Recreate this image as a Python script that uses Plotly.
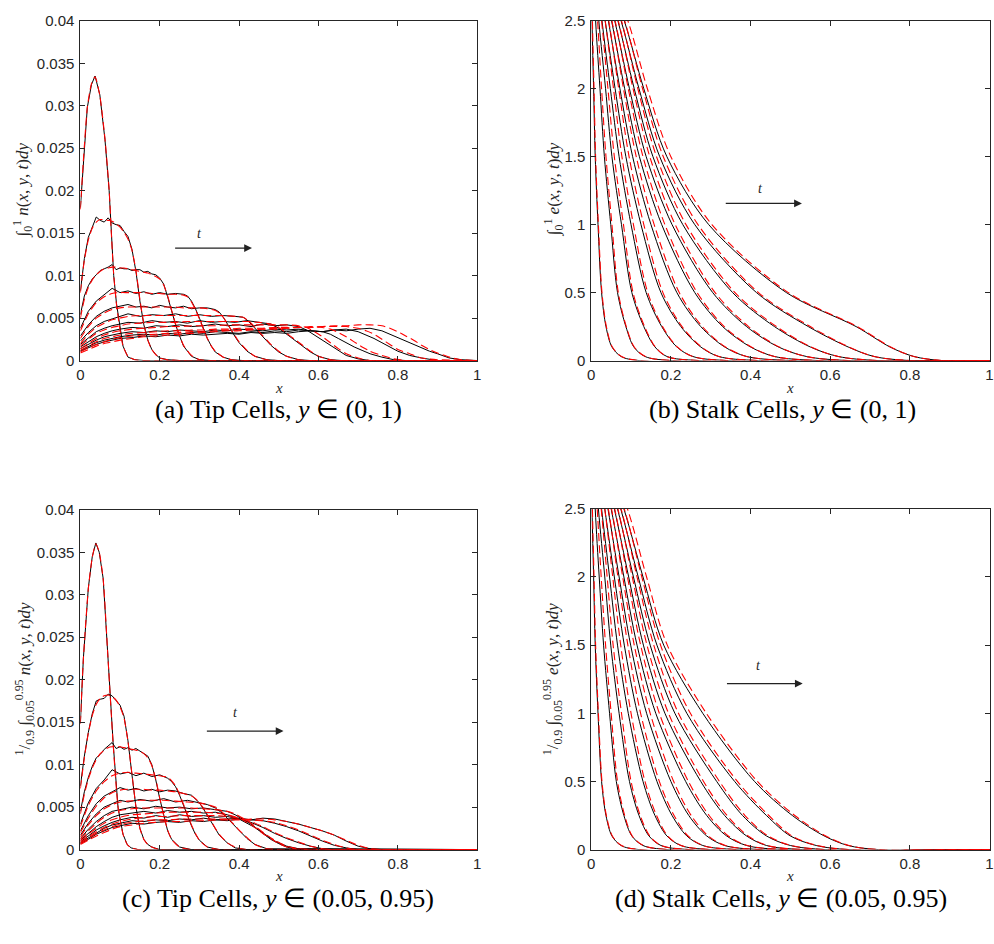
import plotly.graph_objects as go

# ---------------------------------------------------------------
# Tip cells, y in (0, 1): stochastic simulation (black) and
# continuum model (red dashed), eleven snapshots in time.
# ---------------------------------------------------------------
tipA_x = [
    [0, .0075, .0175, .028, .037, .049, .062, .0725, .078, .084, .091, .099, .1075, .12, .137, .16, 1],
    [0, .01, .02, .03, .04, .05, .06, .07, .08, .09, .10, .11, .12, .13, .14, .15, .16, .17, .18, .19, .20, .22, .25, 1],
    [0, .01, .02, .03, .04, .05, .06, .07, .08, .09, .10, .11, .12, .13, .14, .15, .16, .17, .18, .19, .20, .21, .22, .23, .24, .25, .26, .28, .30, .33, 1],
    [0, .02, .04, .06, .08, .10, .12, .14, .16, .18, .20, .22, .24, .26, .27, .28, .29, .30, .31, .32, .33, .34, .36, .38, .41, 1],
    [0, .02, .04, .06, .08, .10, .12, .14, .16, .18, .20, .22, .24, .26, .28, .30, .32, .34, .35, .36, .37, .38, .39, .40, .42, .44, .47, .50, 1],
    [0, .02, .04, .06, .08, .10, .12, .15, .18, .21, .24, .27, .30, .33, .36, .39, .41, .42, .43, .44, .45, .46, .47, .48, .50, .52, .55, .58, 1],
    [0, .02, .04, .06, .08, .10, .12, .15, .18, .21, .24, .27, .30, .33, .36, .39, .42, .45, .48, .50, .52, .54, .56, .58, .60, .63, .66, 1],
    [0, .02, .04, .06, .08, .10, .13, .16, .19, .22, .25, .28, .31, .34, .37, .40, .43, .46, .49, .52, .55, .57, .59, .61, .63, .65, .67, .70, .73, 1],
    [0, .02, .04, .06, .08, .10, .13, .16, .19, .22, .25, .28, .31, .34, .37, .40, .43, .46, .49, .52, .55, .58, .61, .63, .65, .67, .69, .71, .73, .76, .79, .82, 1],
    [0, .02, .04, .06, .08, .10, .13, .16, .19, .22, .25, .28, .31, .34, .37, .40, .43, .46, .49, .52, .55, .58, .61, .64, .67, .70, .72, .74, .76, .78, .80, .83, .86, .90, 1],
    [0, .02, .04, .06, .08, .10, .13, .16, .19, .22, .25, .28, .31, .34, .37, .40, .43, .46, .49, .52, .55, .58, .61, .64, .67, .70, .73, .76, .78, .80, .82, .84, .86, .88, .90, .93, .96, 1],
]
tipA_sim = [
    [.018, .0233, .0298, .0325, .0335, .0313, .026, .020, .0148, .010, .0067, .004, .0017, .0004, .0001, 0, 0],
    [.0082, .0120, .0145, .0158, .0169, .0165, .0163, .0168, .0162, .0160, .0159, .0152, .0146, .0131, .0105, .0070, .0042, .0024, .0013, .0007, .0003, .0001, 0, 0],
    [.0054, .0076, .0088, .0096, .0101, .0106, .0108, .0110, .0113, .0107, .0109, .0108, .0108, .0106, .0107, .0107, .0104, .0105, .0102, .0101, .0097, .0090, .0075, .0058, .0042, .0029, .0017, .0005, .0001, 0, 0],
    [.0038, .0058, .0070, .0077, .0085, .0080, .0082, .0079, .0081, .0078, .0080, .0078, .0079, .0078, .0076, .0070, .0061, .0050, .0038, .0026, .0017, .0010, .0004, .0001, 0, 0],
    [.0029, .0042, .0052, .0058, .0062, .0064, .0066, .0063, .0064, .0062, .0065, .0063, .0062, .0064, .0061, .0062, .0062, .0060, .0057, .0051, .0044, .0036, .0028, .0021, .0011, .0005, .0001, 0, 0],
    [.0023, .0033, .0041, .0046, .0049, .0052, .0055, .0052, .0054, .0053, .0055, .0052, .0054, .0052, .0053, .0052, .0051, .0048, .0043, .0038, .0033, .0028, .0023, .0018, .0010, .0005, .0001, 0, 0],
    [.0019, .0027, .0034, .0038, .0041, .0043, .0045, .0044, .0047, .0045, .0046, .0044, .0047, .0045, .0046, .0045, .0047, .0045, .0043, .0038, .0031, .0024, .0017, .0010, .0005, .0001, 0, 0],
    [.0016, .0022, .0028, .0032, .0035, .0037, .0039, .0038, .0041, .0040, .0042, .0040, .0041, .0043, .0041, .0042, .0040, .0043, .0041, .0042, .0040, .0036, .0030, .0024, .0017, .0011, .0006, .0002, 0, 0],
    [.0014, .0019, .0024, .0028, .0030, .0032, .0034, .0033, .0035, .0034, .0036, .0035, .0034, .0036, .0035, .0037, .0036, .0035, .0037, .0036, .0037, .0035, .0034, .0031, .0026, .0021, .0016, .0012, .0008, .0004, .0001, 0, 0],
    [.0012, .0017, .0021, .0024, .0026, .0028, .0030, .0031, .0030, .0032, .0031, .0033, .0032, .0034, .0033, .0032, .0034, .0033, .0035, .0034, .0036, .0035, .0034, .0036, .0037, .0034, .0030, .0026, .0021, .0016, .0011, .0006, .0003, 0, 0],
    [.0011, .0015, .0019, .0022, .0024, .0026, .0027, .0029, .0028, .0030, .0029, .0031, .0030, .0031, .0032, .0031, .0033, .0032, .0033, .0032, .0034, .0035, .0034, .0036, .0035, .0037, .0038, .0035, .0031, .0027, .0023, .0019, .0015, .0011, .0008, .0003, .0001, 0],
]
tipA_pde = [
    [.0178, .0235, .0298, .0326, .0334, .0312, .0261, .0201, .0150, .0101, .0066, .0039, .0017, .0005, .0001, 0, 0],
    [.0080, .0118, .0142, .0156, .0163, .0166, .0166, .0165, .0164, .0161, .0157, .0151, .0143, .0130, .0106, .0072, .0043, .0024, .0013, .0007, .0003, .0001, 0, 0],
    [.0050, .0072, .0086, .0095, .0101, .0105, .0108, .0109, .0110, .0110, .0109, .0109, .0108, .0107, .0106, .0105, .0104, .0103, .0101, .0099, .0096, .0089, .0076, .0059, .0043, .0029, .0018, .0006, .0001, 0, 0],
    [.0035, .0055, .0068, .0075, .0079, .0080, .0080, .0080, .0080, .0079, .0079, .0078, .0078, .0077, .0075, .0069, .0060, .0049, .0037, .0026, .0017, .0011, .0004, .0001, 0, 0],
    [.0026, .0040, .0050, .0056, .0060, .0062, .0063, .0063, .0063, .0063, .0063, .0063, .0063, .0062, .0062, .0062, .0061, .0059, .0056, .0051, .0044, .0036, .0029, .0022, .0012, .0005, .0001, 0, 0],
    [.0020, .0031, .0039, .0044, .0048, .0050, .0052, .0053, .0053, .0053, .0053, .0053, .0053, .0053, .0053, .0052, .0051, .0048, .0044, .0039, .0034, .0029, .0024, .0019, .0011, .0005, .0001, 0, 0],
    [.0017, .0025, .0032, .0036, .0039, .0041, .0043, .0044, .0045, .0045, .0045, .0046, .0046, .0046, .0046, .0046, .0046, .0045, .0043, .0039, .0032, .0025, .0018, .0011, .0005, .0001, 0, 0],
    [.0014, .0020, .0026, .0030, .0033, .0035, .0037, .0038, .0039, .0040, .0040, .0041, .0041, .0041, .0042, .0042, .0042, .0042, .0042, .0042, .0041, .0039, .0034, .0028, .0021, .0014, .0008, .0003, 0, 0],
    [.0012, .0017, .0022, .0026, .0028, .0030, .0032, .0033, .0034, .0035, .0035, .0036, .0036, .0037, .0037, .0038, .0038, .0038, .0039, .0039, .0039, .0040, .0039, .0037, .0033, .0028, .0022, .0016, .0011, .0006, .0002, 0, 0],
    [.0010, .0015, .0019, .0022, .0025, .0027, .0029, .0030, .0031, .0032, .0033, .0034, .0034, .0035, .0036, .0036, .0037, .0037, .0038, .0038, .0039, .0039, .0040, .0040, .0040, .0038, .0035, .0031, .0025, .0019, .0013, .0008, .0003, .0001, 0],
    [.0009, .0013, .0017, .0020, .0022, .0024, .0026, .0028, .0029, .0030, .0031, .0032, .0033, .0034, .0035, .0035, .0036, .0037, .0037, .0038, .0039, .0039, .0040, .0041, .0041, .0042, .0042, .0041, .0038, .0034, .0029, .0024, .0018, .0013, .0009, .0004, .0001, 0],
]

# ---------------------------------------------------------------
# Tip cells, y in (0.05, 0.95)
# ---------------------------------------------------------------
tipC_x = [
    [0, .0075, .02, .03, .039, .0475, .0575, .07, .0825, .095, .1075, .118, .128, .145, 1],
    [0, .01, .02, .03, .04, .05, .06, .07, .08, .09, .10, .11, .12, .13, .14, .15, .16, .17, .18, .20, 1],
    [0, .01, .02, .03, .04, .05, .06, .07, .08, .09, .10, .11, .12, .13, .14, .15, .16, .17, .18, .19, .20, .21, .22, .23, .25, .28, 1],
    [0, .02, .04, .06, .08, .10, .12, .14, .16, .18, .20, .22, .23, .24, .25, .26, .27, .28, .29, .30, .32, .35, 1],
    [0, .02, .04, .06, .08, .10, .12, .14, .16, .18, .20, .22, .24, .26, .28, .29, .30, .31, .32, .33, .34, .35, .37, .39, .42, 1],
    [0, .02, .04, .06, .08, .10, .12, .15, .18, .21, .24, .27, .30, .32, .34, .35, .36, .37, .38, .39, .40, .42, .44, .47, 1],
    [0, .02, .04, .06, .08, .10, .13, .16, .19, .22, .25, .28, .31, .34, .37, .39, .41, .43, .45, .47, .49, .52, .55, 1],
    [0, .02, .04, .06, .08, .10, .13, .16, .19, .22, .25, .28, .31, .34, .37, .40, .42, .44, .46, .48, .50, .52, .54, .57, .60, 1],
    [0, .02, .04, .06, .08, .10, .13, .16, .19, .22, .25, .28, .31, .34, .37, .40, .43, .46, .49, .52, .55, .58, .61, .64, 1],
    [0, .02, .04, .06, .08, .10, .13, .16, .19, .22, .25, .28, .31, .34, .37, .40, .43, .46, .49, .52, .55, .58, .61, .64, .67, .70, 1],
    [0, .02, .04, .06, .08, .10, .13, .16, .19, .22, .25, .28, .31, .34, .37, .40, .43, .46, .49, .52, .55, .58, .61, .64, .67, .70, .73, .76, 1],
]
tipC_sim = [
    [.015, .0225, .0308, .0345, .0361, .0350, .0319, .0221, .0126, .0049, .0018, .0006, .0002, 0, 0],
    [.0075, .0110, .0138, .0160, .0175, .0177, .0178, .0183, .0181, .0176, .0170, .0157, .0128, .0088, .0050, .0025, .0012, .0006, .0003, 0, 0],
    [.0045, .0068, .0085, .0098, .0108, .0112, .0118, .0122, .0126, .0119, .0121, .0118, .0120, .0117, .0119, .0116, .0113, .0110, .0100, .0082, .0060, .0039, .0022, .0012, .0003, 0, 0],
    [.0030, .0055, .0072, .0082, .0094, .0089, .0091, .0087, .0090, .0086, .0088, .0084, .0080, .0074, .0064, .0053, .0040, .0028, .0018, .0011, .0003, 0, 0],
    [.0022, .0040, .0054, .0063, .0068, .0073, .0070, .0072, .0069, .0071, .0068, .0070, .0069, .0066, .0064, .0060, .0055, .0048, .0040, .0032, .0024, .0017, .0008, .0002, 0, 0],
    [.0017, .0031, .0042, .0050, .0054, .0058, .0056, .0059, .0057, .0060, .0056, .0058, .0055, .0053, .0049, .0046, .0042, .0037, .0032, .0027, .0022, .0013, .0006, .0001, 0],
    [.0013, .0024, .0033, .0040, .0045, .0047, .0050, .0048, .0051, .0049, .0050, .0048, .0049, .0047, .0045, .0041, .0036, .0030, .0023, .0016, .0010, .0004, .0001, 0],
    [.0011, .0019, .0027, .0033, .0038, .0041, .0043, .0045, .0043, .0046, .0044, .0045, .0043, .0044, .0041, .0036, .0031, .0026, .0019, .0012, .0007, .0003, .0001, 0, 0, 0],
    [.0009, .0016, .0023, .0028, .0032, .0035, .0038, .0037, .0040, .0038, .0041, .0039, .0040, .0038, .0039, .0036, .0032, .0026, .0019, .0013, .0008, .0004, .0001, 0, 0],
    [.0008, .0014, .0020, .0025, .0029, .0031, .0034, .0033, .0035, .0034, .0036, .0035, .0037, .0035, .0036, .0037, .0035, .0034, .0031, .0027, .0022, .0016, .0010, .0005, .0002, 0, 0],
    [.0007, .0012, .0018, .0022, .0026, .0028, .0031, .0030, .0032, .0033, .0032, .0034, .0033, .0035, .0034, .0036, .0035, .0037, .0036, .0033, .0030, .0026, .0022, .0017, .0010, .0004, .0001, 0, 0],
]
tipC_pde = [
    [.0148, .0224, .0307, .0344, .0360, .0350, .0318, .0222, .0125, .0050, .0018, .0006, .0002, 0, 0],
    [.0072, .0108, .0137, .0158, .0171, .0178, .0181, .0182, .0180, .0176, .0168, .0155, .0127, .0089, .0051, .0025, .0012, .0006, .0003, 0, 0],
    [.0042, .0065, .0083, .0096, .0106, .0113, .0117, .0120, .0121, .0121, .0121, .0120, .0119, .0118, .0117, .0116, .0113, .0108, .0099, .0083, .0061, .0040, .0023, .0012, .0003, 0, 0],
    [.0027, .0052, .0069, .0080, .0087, .0090, .0091, .0090, .0089, .0088, .0087, .0085, .0081, .0075, .0065, .0053, .0041, .0029, .0019, .0011, .0003, 0, 0],
    [.0020, .0037, .0051, .0061, .0067, .0070, .0071, .0071, .0071, .0070, .0070, .0069, .0068, .0066, .0063, .0060, .0055, .0049, .0041, .0033, .0025, .0018, .0008, .0003, 0, 0],
    [.0015, .0029, .0040, .0048, .0053, .0056, .0057, .0058, .0058, .0058, .0057, .0056, .0055, .0053, .0050, .0047, .0043, .0038, .0033, .0028, .0023, .0014, .0006, .0001, 0],
    [.0012, .0022, .0031, .0038, .0043, .0046, .0048, .0049, .0049, .0049, .0049, .0049, .0048, .0047, .0045, .0042, .0037, .0031, .0024, .0017, .0011, .0004, .0001, 0],
    [.0010, .0018, .0025, .0031, .0035, .0038, .0041, .0042, .0043, .0044, .0044, .0044, .0044, .0043, .0041, .0037, .0032, .0026, .0019, .0013, .0007, .0003, .0001, 0, 0, 0],
    [.0008, .0015, .0021, .0026, .0030, .0033, .0036, .0038, .0039, .0039, .0040, .0040, .0040, .0040, .0039, .0037, .0033, .0027, .0020, .0014, .0009, .0004, .0001, 0, 0],
    [.0007, .0013, .0019, .0023, .0027, .0030, .0032, .0034, .0035, .0035, .0036, .0036, .0036, .0036, .0036, .0036, .0035, .0034, .0032, .0028, .0023, .0017, .0011, .0006, .0002, 0, 0],
    [.0006, .0011, .0016, .0020, .0024, .0027, .0029, .0031, .0032, .0033, .0033, .0034, .0034, .0035, .0035, .0035, .0036, .0036, .0035, .0033, .0030, .0026, .0022, .0017, .0011, .0005, .0001, 0, 0],
]

# ---------------------------------------------------------------
# Stalk cells: each profile is monotone in x, so it is stored as the
# x-position where it passes through each of the levels below.
# ---------------------------------------------------------------
stalk_levels = [2.5, 2.0, 1.5, 1.0, 0.5, 0.25, 0.1, 0.03, 0.0]

stalkB_sim = [
    [.002, .006, .010, .017, .026, .037, .052, .075, .12],
    [.011, .022, .033, .049, .066, .087, .107, .135, .20],
    [.019, .036, .052, .076, .102, .132, .160, .190, .27],
    [.027, .048, .070, .100, .138, .177, .215, .255, .34],
    [.035, .060, .087, .125, .175, .225, .275, .320, .42],
    [.043, .072, .104, .150, .215, .275, .335, .390, .50],
    [.051, .084, .121, .177, .260, .330, .400, .460, .57],
    [.059, .096, .138, .203, .305, .390, .470, .540, .645],
    [.067, .108, .155, .230, .355, .460, .550, .620, .72],
    [.075, .120, .172, .260, .415, .545, .645, .710, .80],
    [.083, .132, .190, .295, .490, .665, .750, .810, .88],
]
stalkB_pde = [
    [.003, .007, .011, .018, .027, .038, .053, .076, .12],
    [.016, .026, .037, .052, .068, .088, .108, .136, .20],
    [.026, .042, .058, .081, .105, .134, .161, .190, .27],
    [.035, .056, .077, .106, .142, .179, .216, .255, .34],
    [.044, .069, .095, .132, .180, .228, .277, .320, .42],
    [.052, .081, .113, .158, .221, .279, .337, .390, .50],
    [.060, .093, .130, .185, .266, .334, .402, .460, .57],
    [.068, .105, .147, .211, .311, .395, .472, .540, .645],
    [.076, .117, .164, .238, .361, .465, .552, .620, .72],
    [.084, .129, .181, .268, .420, .550, .647, .710, .80],
    [.092, .141, .200, .303, .495, .668, .752, .810, .88],
]
stalkD_sim = [
    [.002, .006, .010, .017, .026, .037, .052, .075, .12],
    [.010, .020, .031, .046, .063, .082, .102, .130, .193],
    [.018, .034, .049, .070, .096, .120, .145, .175, .246],
    [.026, .046, .066, .093, .130, .160, .190, .225, .30],
    [.034, .058, .083, .116, .165, .203, .240, .280, .366],
    [.042, .070, .099, .139, .200, .245, .290, .335, .424],
    [.050, .082, .115, .162, .237, .290, .340, .390, .482],
    [.058, .094, .131, .185, .275, .335, .390, .440, .531],
    [.066, .106, .148, .210, .315, .380, .440, .500, .589],
    [.074, .118, .165, .240, .360, .440, .500, .565, .647],
    [.082, .130, .182, .280, .410, .505, .585, .645, .721],
]
stalkD_pde = [
    [.003, .007, .011, .018, .027, .038, .053, .076, .12],
    [.015, .025, .036, .050, .066, .084, .103, .131, .193],
    [.025, .040, .055, .076, .100, .123, .147, .176, .246],
    [.034, .054, .074, .100, .135, .164, .192, .226, .30],
    [.043, .067, .092, .124, .171, .208, .243, .281, .366],
    [.051, .079, .108, .148, .207, .251, .294, .337, .424],
    [.059, .091, .124, .171, .244, .296, .344, .392, .482],
    [.067, .103, .140, .194, .282, .341, .394, .442, .531],
    [.075, .115, .157, .219, .322, .386, .444, .502, .589],
    [.083, .127, .174, .249, .367, .446, .504, .567, .647],
    [.091, .139, .191, .289, .417, .511, .589, .647, .721],
]
STALK_START = 3.2  # value at x = 0, above the 2.5 axis limit

for name, xs, a, b in [("tipA", tipA_x, tipA_sim, tipA_pde), ("tipC", tipC_x, tipC_sim, tipC_pde)]:
    for i, (x, s, p) in enumerate(zip(xs, a, b)):
        assert len(x) == len(s) == len(p), (name, i, len(x), len(s), len(p))

INK = "#262626"
TICK_FONT = dict(family="Liberation Sans, Arial, sans-serif", size=15, color=INK)
SERIF = "Liberation Serif, Times New Roman, serif"

fig = go.Figure()

panels = [
    ("x", "y", "tip", tipA_x, tipA_sim, tipA_pde),
    ("x2", "y2", "stalk", None, stalkB_sim, stalkB_pde),
    ("x3", "y3", "tip", tipC_x, tipC_sim, tipC_pde),
    ("x4", "y4", "stalk", None, stalkD_sim, stalkD_pde),
]

RED_DASH = "8px,4px"
for xa, ya, kind, xs, sim, pde in panels:
    if kind == "tip":
        sim_curves = list(zip(xs, sim))
        pde_curves = list(zip(xs, pde))
        sim_line = dict(color="black", width=1)
    else:
        ys = [STALK_START] + stalk_levels + [0.0]
        sim_curves = [([0.0] + row + [1.0], ys) for row in sim]
        pde_curves = [([0.0] + row + [1.0], ys) for row in pde]
        sim_line = dict(color="black", width=1, shape="spline", smoothing=0.9)
    for x, y in sim_curves:
        fig.add_trace(go.Scatter(x=x, y=y, mode="lines", xaxis=xa, yaxis=ya,
                                 line=sim_line, showlegend=False, hoverinfo="skip"))
    for x, y in pde_curves:
        fig.add_trace(go.Scatter(x=x, y=y, mode="lines", xaxis=xa, yaxis=ya,
                                 line=dict(color="red", width=1.1, dash=RED_DASH,
                                           shape="spline", smoothing=0.9 if kind == "stalk" else 0.6),
                                 showlegend=False, hoverinfo="skip"))

W, H = 994, 944
def dom_x(l, r):
    return [l / W, r / W]
def dom_y(top, bottom):
    return [(H - bottom) / H, (H - top) / H]

x_ticks = [0, 0.2, 0.4, 0.6, 0.8, 1]
x_text = ["0", "0.2", "0.4", "0.6", "0.8", "1"]
tip_ticks = [0, .005, .01, .015, .02, .025, .03, .035, .04]
tip_text = ["0", "0.005", "0.01", "0.015", "0.02", "0.025", "0.03", "0.035", "0.04"]
stalk_ticks = [0, 0.5, 1, 1.5, 2, 2.5]
stalk_text = ["0", "0.5", "1", "1.5", "2", "2.5"]

axis_style = dict(showline=True, linecolor=INK, linewidth=1, mirror="allticks",
                  ticks="inside", ticklen=5, tickwidth=1, tickcolor=INK,
                  showgrid=False, zeroline=False, tickfont=TICK_FONT)

layout_axes = {
    "xaxis": dict(domain=dom_x(77, 477), anchor="y", range=[0, 1], tickvals=x_ticks, ticktext=x_text, **axis_style),
    "yaxis": dict(domain=dom_y(12, 358), anchor="x", range=[0, 0.04], tickvals=tip_ticks, ticktext=tip_text, ticklabelstandoff=2, **axis_style),
    "xaxis2": dict(domain=dom_x(592, 993.5), anchor="y2", range=[0, 1], tickvals=x_ticks, ticktext=x_text, **axis_style),
    "yaxis2": dict(domain=dom_y(12, 358), anchor="x2", range=[0, 2.5], tickvals=stalk_ticks, ticktext=stalk_text, ticklabelstandoff=2, **axis_style),
    "xaxis3": dict(domain=dom_x(77, 477), anchor="y3", range=[0, 1], tickvals=x_ticks, ticktext=x_text, **axis_style),
    "yaxis3": dict(domain=dom_y(510, 856), anchor="x3", range=[0, 0.04], tickvals=tip_ticks, ticktext=tip_text, ticklabelstandoff=2, **axis_style),
    "xaxis4": dict(domain=dom_x(592, 993.5), anchor="y4", range=[0, 1], tickvals=x_ticks, ticktext=x_text, **axis_style),
    "yaxis4": dict(domain=dom_y(509, 856), anchor="x4", range=[0, 2.5], tickvals=stalk_ticks, ticktext=stalk_text, ticklabelstandoff=2, **axis_style),
}

fig.update_layout(width=W, height=H, margin=dict(l=0, r=0, t=0, b=0),
                  paper_bgcolor="white", plot_bgcolor="white", showlegend=False,
                  **layout_axes)

def px(xp, yp):
    return dict(x=xp / W, y=(H - yp) / H, xref="paper", yref="paper",
                xanchor="center", yanchor="middle")

# time arrows with their "t" labels
arrows = [
    ("x", "y", 0.235, 0.4325, 0.01324, 0.299, 0.0149),
    ("x2", "y2", 0.334, 0.529, 1.156, 0.426, 1.264),
    ("x3", "y3", 0.315, 0.512, 0.01395, 0.390, 0.0161),
    ("x4", "y4", 0.337, 0.531, 1.218, 0.419, 1.347),
]
for xa, ya, x0, x1, yv, tx, ty in arrows:
    fig.add_annotation(x=x1, y=yv, ax=x0, ay=yv, xref=xa, yref=ya, axref=xa, ayref=ya,
                       text="", showarrow=True, arrowhead=2, arrowsize=1.3,
                       arrowwidth=1.2, arrowcolor="#222222")
    fig.add_annotation(x=tx, y=ty, xref=xa, yref=ya, text="<i>t</i>", showarrow=False,
                       xanchor="center", yanchor="middle",
                       font=dict(family=SERIF, size=14, color=INK))

# x-axis titles
for xc, yc in [(277, 386), (792, 386), (277, 883), (792, 883)]:
    fig.add_annotation(**px(xc, yc), text="<i>x</i>", showarrow=False,
                       font=dict(family=SERIF, size=15, color=INK))

# y-axis titles
ylab_full_n = "∫<sub>0</sub><sup>1</sup> <i>n</i>(<i>x</i>, <i>y</i>, <i>t</i>)<i>dy</i>"
ylab_full_e = "∫<sub>0</sub><sup>1</sup> <i>e</i>(<i>x</i>, <i>y</i>, <i>t</i>)<i>dy</i>"
ylab_part_n = ("<sup>1</sup>/<sub>0.9</sub> ∫<sub>0.05</sub><sup>0.95</sup> "
               "<i>n</i>(<i>x</i>, <i>y</i>, <i>t</i>)<i>dy</i>")
ylab_part_e = ("<sup>1</sup>/<sub>0.9</sub> ∫<sub>0.05</sub><sup>0.95</sup> "
               "<i>e</i>(<i>x</i>, <i>y</i>, <i>t</i>)<i>dy</i>")
for (xc, yc), txt in [((19, 184), ylab_full_n), ((554, 184), ylab_full_e),
                      ((21, 682), ylab_part_n), ((553, 682), ylab_part_e)]:
    fig.add_annotation(**px(xc, yc), text=txt, textangle=-90, showarrow=False,
                       font=dict(family=SERIF, size=17, color=INK))

# sub-figure captions
captions = [
    ((277, 408), "(a) Tip Cells, <i>y</i> ∈ (0, 1)"),
    ((785, 408), "(b) Stalk Cells, <i>y</i> ∈ (0, 1)"),
    ((276, 906), "(c) Tip Cells, <i>y</i> ∈ (0.05, 0.95)"),
    ((783, 906), "(d) Stalk Cells, <i>y</i> ∈ (0.05, 0.95)"),
]
for (xc, yc), txt in captions:
    fig.add_annotation(**px(xc, yc), text=txt, showarrow=False,
                       font=dict(family=SERIF, size=26, color="black"))

fig.write_html("out.html")
